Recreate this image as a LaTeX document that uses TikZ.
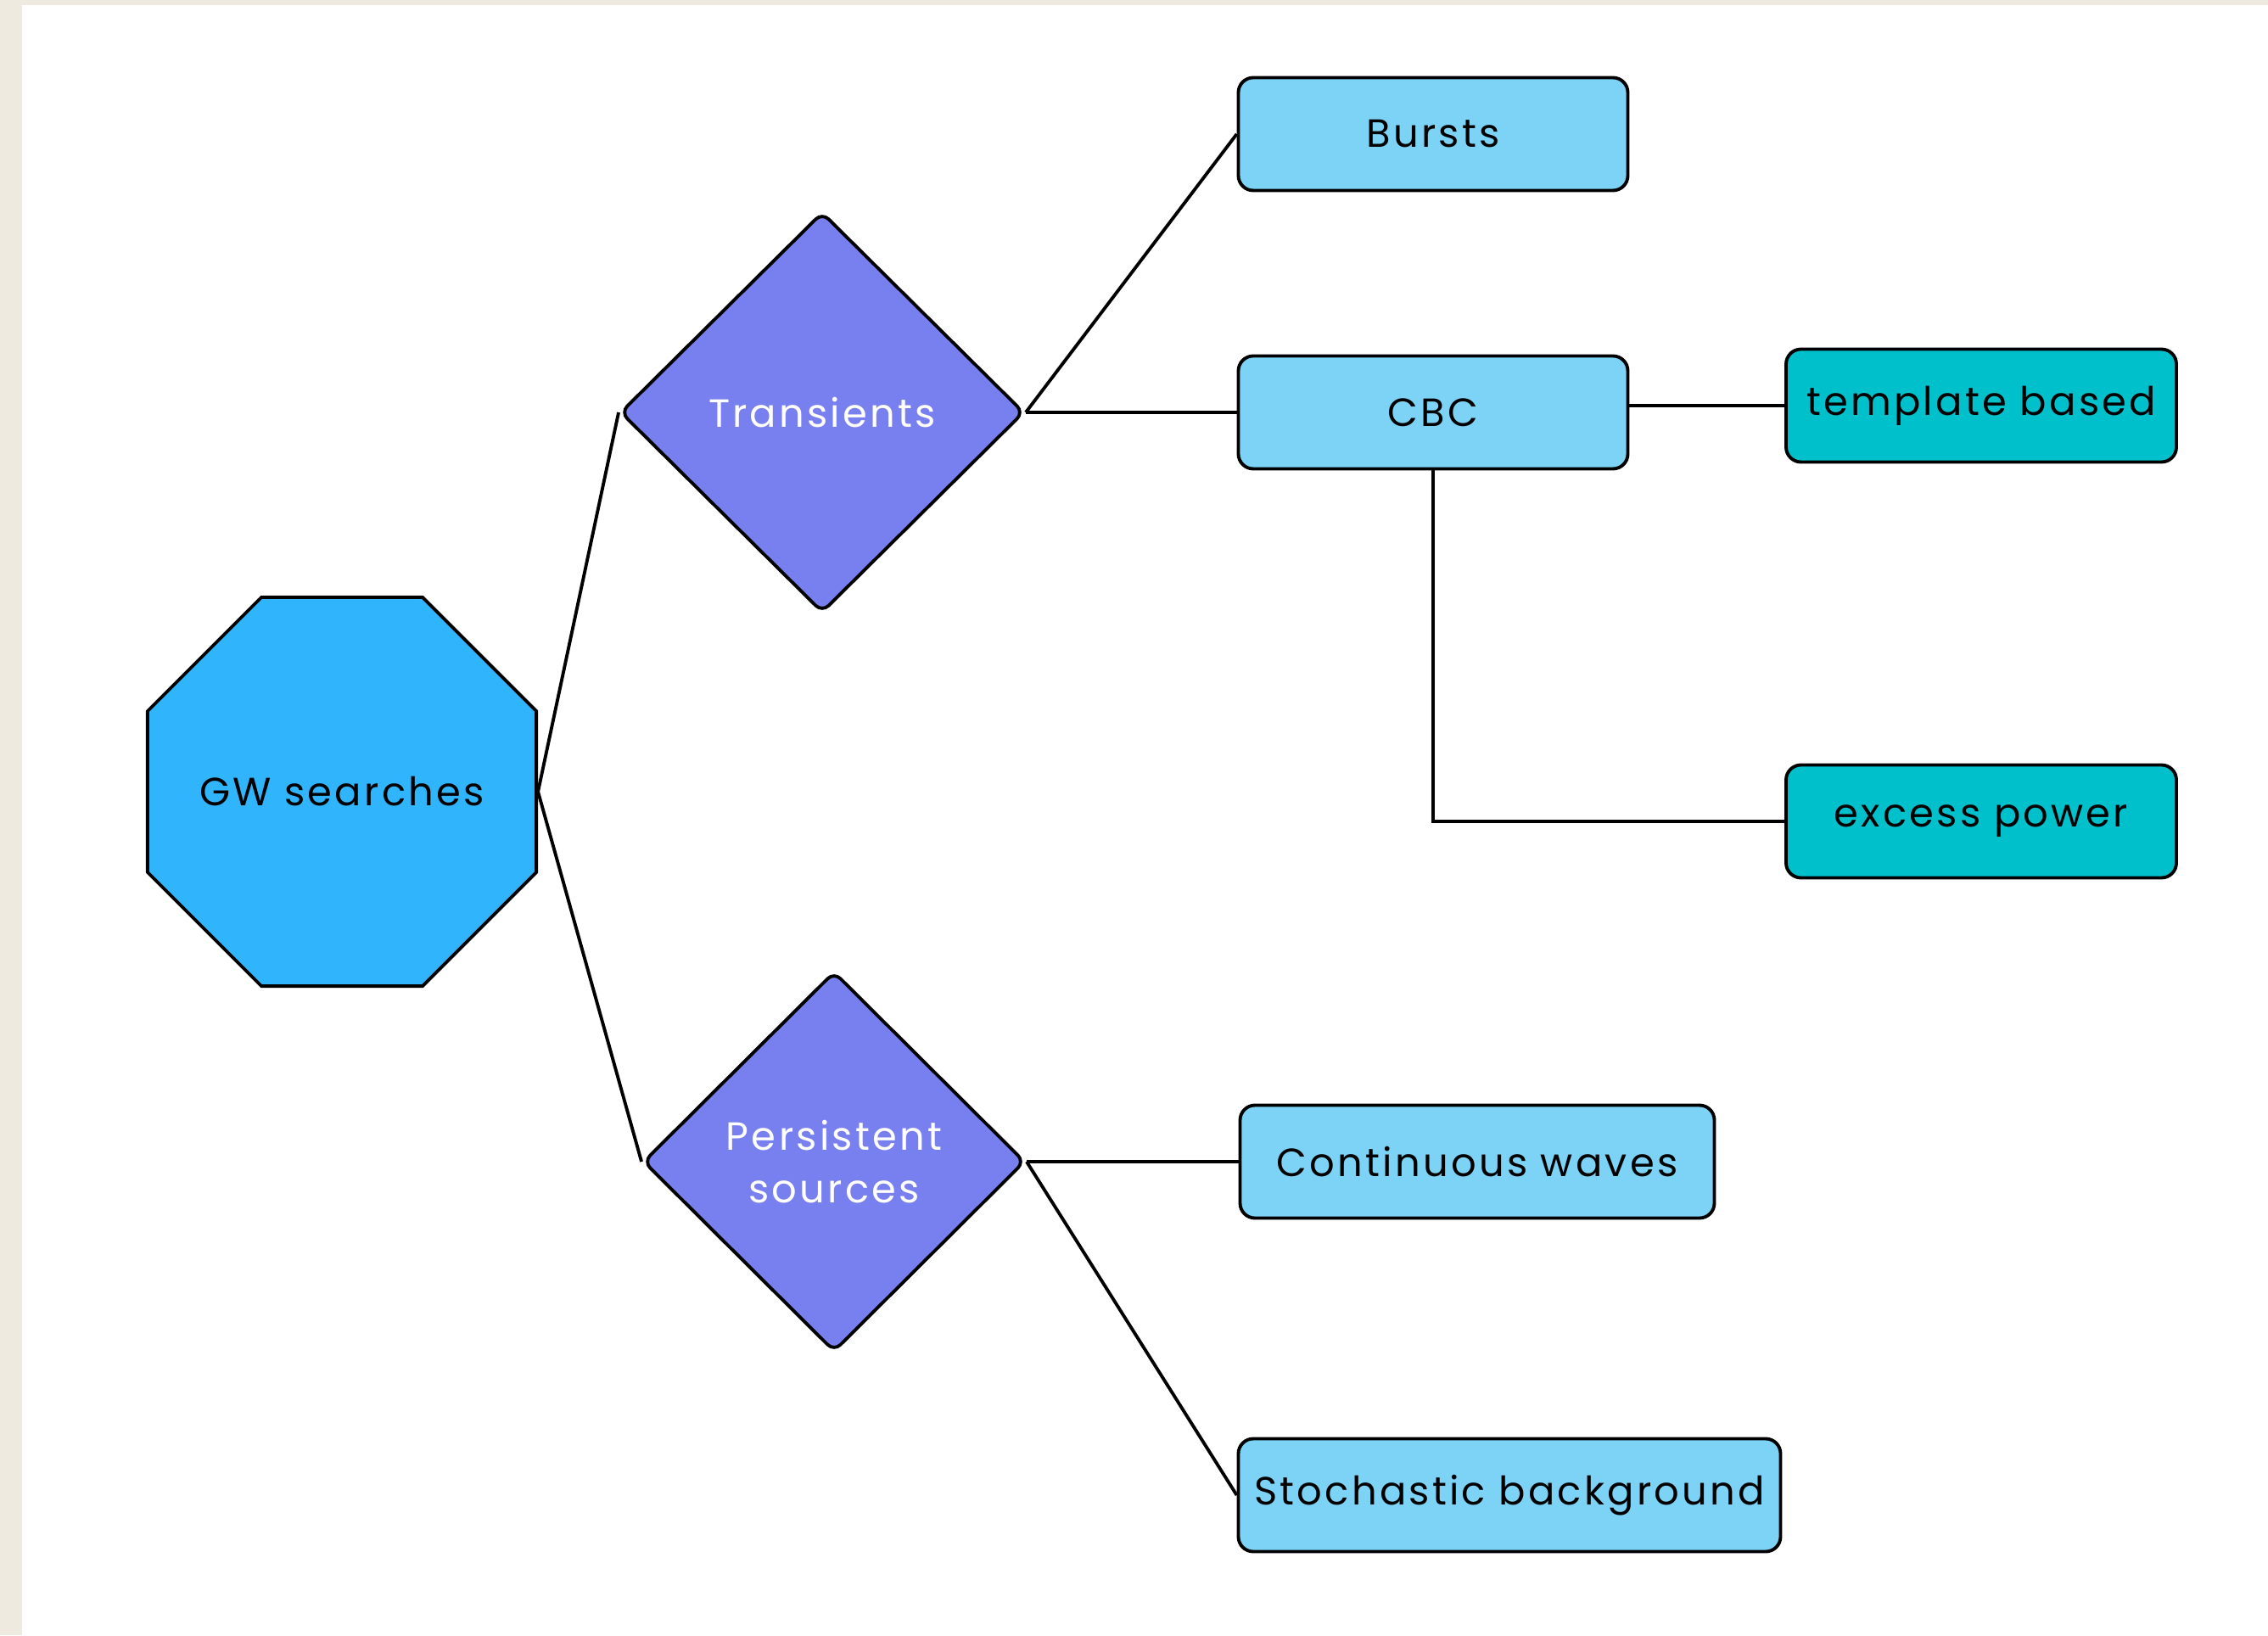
\documentclass[tikz,border=0pt]{standalone}
\usepackage{fontspec}
\setmainfont{Poppins}[LetterSpace=7]
\usepackage{xcolor}
\definecolor{framebeige}{HTML}{EEEAE0}
\definecolor{octblue}{HTML}{30B4FC}
\definecolor{splitviolet}{HTML}{7880F0}
\definecolor{boxblue}{HTML}{7DD3F5}
\definecolor{leafteal}{HTML}{00C0CC}
\usepackage{tikz}
\usetikzlibrary{shapes,positioning}

\begin{document}
\begin{tikzpicture}[-,line width=1.1pt,node distance=7.2cm,
                    font=\fontsize{13.2}{17.5}\selectfont]
  \tikzstyle{root}=[draw,regular polygon,regular polygon sides=8,
                    fill=octblue,minimum size=4.96cm,inner sep=0pt]
  \tikzstyle{split}=[draw,diamond,rounded corners=3pt,fill=splitviolet,
                     text=white,align=center,inner sep=0pt]
  \tikzstyle{box}=[draw,rectangle,rounded corners=5pt,fill=boxblue,
                   minimum height=1.33cm,inner sep=0pt]
  \tikzstyle{leaf}=[box,fill=leafteal,minimum width=4.6cm]

  % page frame
  \fill[framebeige] (0,0) rectangle (26.73,19.27);
  \fill[white] (0.26,0) rectangle (26.73,19.21);
  \useasboundingbox (0,0) rectangle (26.73,19.27);

  \node[root] (gw) at (4.03,9.94) {\makebox[0pt]{GW searches}};
  \node[split,minimum width=4.76cm,minimum height=4.72cm] (tr) at (9.69,14.41) {Transients};
  \node[split,minimum width=4.5cm,minimum height=4.48cm] (ps) at (9.83,5.58) {Persistent\\sources};

  \node[box,minimum width=4.59cm] (cbc) [right of=tr] {CBC};
  \node[box,minimum width=4.59cm] (bursts) [above of=cbc, node distance=3.28cm] {Bursts};
  \node[leaf] (tmpl) [right of=cbc, node distance=6.46cm, yshift=0.08cm] {template based};
  \node[leaf] (exc) [below of=tmpl, node distance=4.9cm] {excess power};

  \node[box,minimum width=5.59cm] (cw) [right of=ps, node distance=7.58cm] {Continuous waves};
  \node[box,minimum width=6.39cm] (sb) [below of=cw, node distance=3.93cm, xshift=0.38cm] {Stochastic background};

  \path (gw.east)  edge (tr.west)
                   edge (ps.west)
        (tr.east)  edge (bursts.west)
                   edge (cbc.west)
        (tmpl.west -| cbc.east) edge (tmpl.west)
        (cbc.south) edge [to path={|- (\tikztotarget)}] (exc.west)
        (ps.east)  edge (cw.west)
                   edge (sb.west);
\end{tikzpicture}
\end{document}
